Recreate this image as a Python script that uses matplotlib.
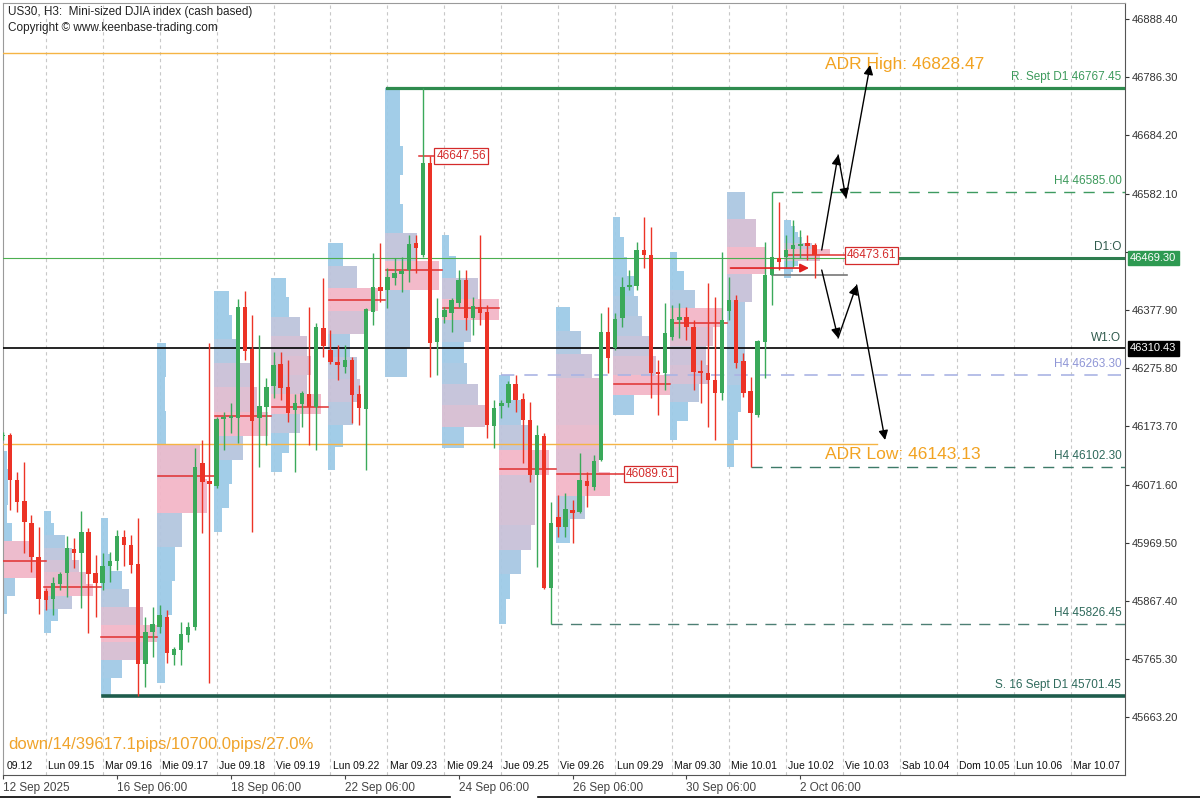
import numpy as np
import matplotlib.pyplot as plt
import matplotlib.transforms as mtransforms
from matplotlib.colors import to_rgb

plt.rcParams['font.family'] = ['Liberation Sans', 'DejaVu Sans']

# Bougies H3 US30 (12 sept -> 2 oct 2025)
opens = [46156, 46158.6, 46079.6, 46042.8, 46004.2, 45944.6,
         45884.9, 45870.9, 45897.2, 45916.5, 45958.6, 45951.6, 45988.4, 45916.5,
         45898.9, 45928.8, 45937.5, 45979.6, 45965.6, 45932.3, 45756.8, 45813.0,
         45821.7, 45839.3, 45772.6, 45781.4, 45807.7, 45821.7, 46109.5, 46077.9,
         46069.1, 46186.6, 46188.4, 46188.4, 46383.1, 46309.5, 46188.4, 46207.7,
         46244.5, 46283.1, 46242.8, 46202.4, 46213.0, 46230.5, 46207.7, 46346.3,
         46307.7, 46286.6, 46277.9, 46290.2, 46230.5, 46204.2, 46374.4, 46418.2,
         46413.0, 46434.0, 46441.0, 46448.0, 46495.4, 46474.4, 46635.7, 46321.7,
         46365.6, 46372.6, 46390.1, 46430.5, 46363.8, 46383.1, 46374.4, 46174.4,
         46209.5, 46214.7, 46248.0, 46221.7, 46184.9, 46088.4, 46156.8, 45890.2,
         46014.7, 45997.2, 46027.0, 46023.5, 46077.9, 46067.4, 46114.7, 46339.3,
         46311.2, 46363.8, 46418.2, 46420.0, 46483.1, 46474.4, 46269.1, 46267.3,
         46330.5, 46360.3, 46365.6, 46348.0, 46270.9, 46267.3, 46255.1, 46232.3,
         46376.1, 46395.4, 46288.4, 46235.8, 46193.7, 46321.7, 46439.3, 46469.1,
         46470.8, 46484.9, 46490.1, 46495.4, 46491.9]
highs = [46163, 46162.1, 46093.7, 46111.2, 46018.2, 45997.2,
         45890.2, 45909.5, 45918.2, 45981.4, 45977.9, 46025.3, 45995.4, 45948.1,
         45951.6, 45953.3, 45991.9, 45991.9, 45983.1, 46013.0, 45839.3, 45856.8,
         45860.3, 45851.6, 45786.7, 45830.5, 45830.5, 46135.8, 46149.8, 46320.0,
         46190.2, 46198.9, 46214.7, 46397.2, 46411.2, 46369.1, 46334.0, 46258.6,
         46304.2, 46304.2, 46290.2, 46230.5, 46235.8, 46383.1, 46355.1, 46434.0,
         46342.8, 46316.5, 46316.5, 46295.4, 46246.3, 46381.4, 46477.9, 46495.4,
         46451.5, 46469.1, 46470.8, 46509.4, 46509.4, 46767.3, 46647.6, 46398.9,
         46383.1, 46398.9, 46448.0, 46448.0, 46400.7, 46509.4, 46386.6, 46220.0,
         46220.0, 46253.3, 46263.8, 46232.3, 46216.5, 46176.1, 46162.1, 46041.0,
         46053.3, 46056.8, 46044.6, 46127.0, 46093.7, 46123.5, 46372.6, 46383.1,
         46372.6, 46435.8, 46448.0, 46497.2, 46541.0, 46523.5, 46290.2, 46390.1,
         46386.6, 46390.1, 46383.1, 46360.3, 46290.2, 46425.2, 46400.7, 46479.6,
         46435.8, 46404.2, 46302.4, 46260.3, 46325.2, 46497.2, 46585.0, 46567.3,
         46509.4, 46535.8, 46518.2, 46509.4, 46495.4]
lows = [46150, 46027.0, 46023.5, 45951.6, 45918.2, 45844.6,
        45851.6, 45842.8, 45886.7, 45874.4, 45925.3, 45855.1, 45811.2, 45839.3,
        45886.7, 45900.7, 45921.8, 45928.8, 45916.5, 45701.5, 45716.5, 45769.1,
        45811.2, 45758.6, 45755.1, 45755.1, 45795.4, 45816.5, 45986.7, 45723.5,
        46065.6, 46132.3, 46162.1, 46144.5, 46290.2, 45988.4, 46102.4, 46141.0,
        46223.5, 46220.0, 46181.4, 46093.7, 46172.6, 46141.0, 46132.3, 46295.4,
        46283.1, 46255.1, 46267.3, 46179.6, 46176.1, 46097.2, 46351.6, 46391.9,
        46381.4, 46421.7, 46409.4, 46427.0, 46442.8, 46470.8, 46260.3, 46263.8,
        46355.1, 46339.3, 46383.1, 46342.8, 46334.0, 46351.6, 46153.3, 46135.8,
        46188.4, 46207.7, 46198.9, 46109.5, 46076.1, 45927.0, 45888.0, 45826.5,
        45979.6, 45979.6, 45969.1, 46021.7, 46032.3, 46062.1, 46113.0, 46267.3,
        46307.7, 46348.0, 46413.0, 46413.0, 46451.5, 46223.5, 46193.7, 46237.5,
        46325.2, 46328.7, 46325.2, 46237.5, 46214.7, 46172.6, 46149.8, 46220.0,
        46360.3, 46276.1, 46225.2, 46102.3, 46190.2, 46258.6, 46386.6, 46448.0,
        46451.5, 46453.3, 46469.1, 46465.6, 46434.0]
closes = [46159, 46079.6, 46041.0, 46006.0, 45944.6, 45870.9,
          45869.1, 45898.9, 45914.7, 45960.3, 45951.6, 45988.4, 45914.7, 45898.9,
          45928.8, 45937.5, 45981.4, 45965.6, 45930.5, 45756.8, 45813.0, 45827.0,
          45842.8, 45776.1, 45783.2, 45809.5, 45821.7, 46102.4, 46076.1, 46072.6,
          46186.6, 46190.2, 46191.9, 46383.1, 46305.9, 46183.1, 46209.5, 46242.8,
          46281.4, 46241.0, 46197.2, 46214.7, 46232.3, 46207.7, 46348.0, 46314.7,
          46286.6, 46281.4, 46290.2, 46228.7, 46205.9, 46379.6, 46418.2, 46411.2,
          46435.8, 46442.8, 46446.3, 46493.6, 46486.6, 46635.7, 46320.0, 46363.8,
          46377.9, 46395.4, 46430.5, 46363.8, 46384.9, 46372.6, 46176.1, 46205.9,
          46214.7, 46248.0, 46220.0, 46184.9, 46088.4, 46158.6, 45890.2, 46004.2,
          45997.2, 46028.8, 46021.7, 46079.6, 46069.1, 46113.0, 46339.3, 46293.7,
          46362.1, 46418.2, 46420.0, 46483.1, 46474.4, 46267.3, 46265.6, 46337.5,
          46362.1, 46365.6, 46348.0, 46269.1, 46267.3, 46255.1, 46232.3, 46360.3,
          46395.4, 46284.9, 46232.3, 46197.2, 46323.5, 46439.3, 46470.8, 46462.1,
          46483.1, 46491.9, 46493.6, 46490.1, 46473.6]

# profils de volume par jour (largeur en barres, du haut vers le bas)
day_starts = [0, 6, 14, 22, 30, 38, 46, 54, 62, 70, 78, 86, 94, 102, 110]
day_profiles = [
    [0.5, 0.8, 1.0, 1.0, 0.8, 1.5, 4.5, 5.0, 2.0, 0.8],
    [1.0, 1.5, 3, 4, 5, 6, 7, 4, 2, 1],
    [1, 1, 1.5, 3, 4, 6, 8, 6, 3, 1.5],
    [1.2, 1, 1.2, 6, 7, 3.5, 2.5, 2, 1.5, 1],
    [2, 2.5, 3.5, 5, 6, 7.5, 4, 2.5, 2, 1],
    [2, 2.5, 4, 5, 5.5, 5, 7, 4, 2.5, 1.5],
    [2, 4, 7, 5, 3, 4, 4.5, 3.5, 2, 1],
    [2, 2, 2.5, 2, 2.5, 4.5, 7.5, 3.5, 3.5, 3],
    [1, 2, 5, 8, 4, 3, 3.5, 5, 6, 3],
    [1.5, 3, 4, 7, 5, 5, 4.5, 3, 1.5, 1],
    [2, 3.5, 5, 6, 6, 6.5, 6, 7.5, 4, 2],
    [1, 1.5, 2, 3, 3.5, 4, 5, 6, 8, 3],
    [1, 2, 3.5, 7.5, 6, 5, 5.5, 4, 2.5, 1],
    [2.5, 4, 5.5, 3.5, 2.5, 2.5, 2.5, 2, 1.5, 1],
    [1, 1.5, 2, 2.5, 4, 6.5, 5, 2, 1.2, 1],
]
day_poc = [45937.5, 45891.9, 45804.2, 46086.7, 46191.9, 46207.7, 46395.4, 46448.0,
           46381.4, 46098.9, 46089.61, 46248.0, 46355.1, 46451.5, 46473.61]

sep_bars = [6, 14, 22, 30, 38, 46, 54, 62, 70, 78, 86, 94, 102, 110, 118, 126, 134, 142, 150]
day_labels = ["09.12", "Lun 09.15", "Mar 09.16", "Mie 09.17", "Jue 09.18", "Vie 09.19",
              "Lun 09.22", "Mar 09.23", "Mie 09.24", "Jue 09.25", "Vie 09.26", "Lun 09.29",
              "Mar 09.30", "Mie 10.01", "Jue 10.02", "Vie 10.03", "Sab 10.04", "Dom 10.05",
              "Lun 10.06", "Mar 10.07"]
label_bars = [0.2] + sep_bars

bottom_ticks = [0, 16, 32, 48, 64, 80, 96, 112]
bottom_labels = ["12 Sep 2025", "16 Sep 06:00", "18 Sep 06:00", "22 Sep 06:00",
                 "24 Sep 06:00", "26 Sep 06:00", "30 Sep 06:00", "2 Oct 06:00"]

y_ticks = [46888.40, 46786.30, 46684.20, 46582.10, 46480.00, 46377.90, 46275.80,
           46173.70, 46071.60, 45969.50, 45867.40, 45765.30, 45663.20]

adr_high = 46828.47
adr_low = 46143.13

GREEN = '#3aa95a'
RED = '#ec3326'
BLUE = np.array(to_rgb('#9dcbe7'))
PINK = np.array(to_rgb('#f3b7c8'))

fig = plt.figure(figsize=(12, 8), dpi=100)
ax = fig.add_axes([3 / 1200, 25 / 800, 1122 / 1200, 772 / 800])
ax.set_xlim(0, 157.6)
ax.set_ylim(45562.15, 46916.47)

# separateurs de jours
for s in sep_bars:
    ax.axvline(s, color='#c8c8c8', lw=0.8, ls=(0, (3, 3)), zorder=1)

# profils de volume
for k, start in enumerate(day_starts):
    end = day_starts[k + 1] if k + 1 < len(day_starts) else len(opens)
    lo = min(lows[start:end])
    hi = max(highs[start:end])
    w = np.array(day_profiles[k])
    n = len(w)
    edges = np.linspace(hi, lo, n + 1)
    t = np.clip((w / w.max() - 0.35) / 0.6, 0, 1)
    cols = [tuple(BLUE * (1 - tt) + PINK * tt) for tt in t]
    ax.barh(edges[1:], w, height=(hi - lo) / n, left=start - 0.3, align='edge',
            color=cols, lw=0, alpha=0.95, zorder=2)

# lignes POC
for k, start in enumerate(day_starts):
    if k == 13:
        ax.annotate('', xy=(113.6, day_poc[k]), xytext=(start - 0.2, day_poc[k]),
                    arrowprops=dict(arrowstyle='-|>', color='#e02020', lw=1.2,
                                    mutation_scale=13), zorder=6)
        continue
    stop = start + 7.7
    if k == 0:
        stop = 6
    if k == 10:
        stop = 87.2
    if k == 14:
        stop = 118.2
    ax.plot([start - 0.2, stop], [day_poc[k]] * 2, color='#e03030', lw=1.1, zorder=3)

# niveaux ADR
ax.plot([0, 122.8], [adr_high] * 2, color='#f5b444', lw=1.0, zorder=3)
ax.plot([0, 122.8], [adr_low] * 2, color='#f5b444', lw=1.0, zorder=3)
ax.text(115.5, adr_high - 6, "ADR High: 46828.47", color='#f2a322', fontsize=12.5,
        va='top', ha='left', zorder=7)
ax.text(115.5, adr_low - 6, "ADR Low: 46143.13", color='#f2a322', fontsize=12.5,
        va='top', ha='left', zorder=7)

# niveaux horizontaux
xr = 157.6
ax.axhline(46469.30, color='#4caf50', lw=0.8, zorder=3)
ax.plot([126, xr], [46469.30] * 2, color='#2e7d4f', lw=2.2, zorder=3)
ax.axhline(46310.43, color='black', lw=1.2, zorder=3)
ax.plot([54, xr], [46767.45] * 2, color='#2e8b4e', lw=2.3, zorder=3)
ax.plot([14, xr], [45701.45] * 2, color='#1e5c4c', lw=2.6, zorder=3)
ax.plot([108, xr], [46585.00] * 2, color='#3d9a60', lw=1.0, ls=(0, (8, 6)), zorder=3)
ax.plot([70, xr], [46263.30] * 2, color='#aab4e4', lw=1.2, ls=(0, (8, 6)), zorder=3)
ax.plot([105, xr], [46102.30] * 2, color='#3d7a68', lw=1.0, ls=(0, (8, 6)), zorder=3)
ax.plot([77, xr], [45826.45] * 2, color='#4d7f74', lw=1.0, ls=(0, (8, 6)), zorder=3)
ax.plot([108, 118.5], [46439.3] * 2, color='#777777', lw=1.2, zorder=3)

level_tags = [("R. Sept D1 46767.45", 46767.45, '#3d9a5c'),
              ("H4 46585.00", 46585.00, '#3d9a5c'),
              ("D1:O", 46469.30, '#2f5a4c'),
              ("W1:O", 46310.43, '#2f5a4c'),
              ("H4 46263.30", 46263.30, '#8f96d6'),
              ("H4 46102.30", 46102.30, '#2f6a5c'),
              ("H4 45826.45", 45826.45, '#2f6a5c'),
              ("S. 16 Sept D1 45701.45", 45701.45, '#2f6a5c')]
for txt, lvl, c in level_tags:
    ax.annotate(txt, xy=(xr - 0.5, lvl), xytext=(0, 3.5), textcoords='offset points',
                ha='right', va='bottom', color=c, fontsize=8.5, zorder=7)

# bougies
idx = np.arange(len(opens))
o = np.array(opens); h = np.array(highs); l = np.array(lows); c = np.array(closes)
col = np.where(c >= o, GREEN, RED)
ax.vlines(idx, l, h, colors=col, lw=1.0, zorder=4)
ax.bar(idx, np.maximum(np.abs(c - o), 3.0), bottom=np.minimum(o, c), width=0.62,
       color=col, lw=0, zorder=5)

# étiquettes de prix
ax.plot([58.4, 60.6], [46647.56] * 2, color='#e03030', lw=1.1, zorder=3)
for xb, p in [(60.6, 46647.56), (87.2, 46089.61), (118.2, 46473.61)]:
    ax.text(xb + 0.3, p, f"{p:.2f}", color='#d42b2b', fontsize=8.5, va='center', ha='left',
            zorder=8, bbox=dict(boxstyle='square,pad=0.18', fc='white', ec='#d42b2b', lw=0.9))

# scénarios (flèches)
paths = [[(115.0, 46483.1), (117.3, 46649.8), (118.4, 46574.3), (121.8, 46807.7)],
         [(115.0, 46448.0), (117.3, 46328.7), (119.9, 46421.7), (123.9, 46149.8)]]
for pts in paths:
    for a, b in zip(pts[:-1], pts[1:]):
        ax.annotate('', xy=b, xytext=a,
                    arrowprops=dict(arrowstyle='-|>', color='black', lw=1.0,
                                    mutation_scale=14, shrinkA=0, shrinkB=0), zorder=9)

# étiquettes des jours (dans le graphe)
blend = mtransforms.blended_transform_factory(ax.transData, ax.transAxes)
for xb, lab in zip(label_bars, day_labels):
    ax.text(xb + 0.3, 0.0115, lab, transform=blend, fontsize=7.5, va='center',
            ha='left', color='#111111')

# axes
ax.yaxis.tick_right()
ax.set_yticks(y_ticks)
# le niveau 46480.00 est caché par la boîte verte du prix courant
ax.set_yticklabels(["" if abs(v - 46480.0) < 1 else f"{v:.2f}" for v in y_ticks])
ax.tick_params(axis='y', length=3, pad=2, labelsize=8, colors='#333333')
ax.set_xticks(bottom_ticks)
ax.set_xticklabels(bottom_labels)
for lb in ax.get_xticklabels():
    lb.set_ha('left')
ax.tick_params(axis='x', length=3, pad=2, labelsize=8.5, colors='#444444')
for side in ['left', 'top']:
    ax.spines[side].set_color('#9a9a9a')
for side in ['right', 'bottom']:
    ax.spines[side].set_color('#555555')

# boîtes de prix sur l'axe droit
yblend = mtransforms.blended_transform_factory(ax.transAxes, ax.transData)
ax.text(1.0045, 46469.30, "46469.30", transform=yblend, color='white', fontsize=8,
        va='center', ha='left', clip_on=False, zorder=10,
        bbox=dict(boxstyle='square,pad=0.2', fc='#2e9a52', ec='#2e9a52'))
ax.text(1.0045, 46310.43, "46310.43", transform=yblend, color='white', fontsize=8,
        va='center', ha='left', clip_on=False, zorder=10,
        bbox=dict(boxstyle='square,pad=0.2', fc='black', ec='black'))

fig.text(8 / 1200, 1 - 12 / 800, "US30, H3:  Mini-sized DJIA index (cash based)",
         fontsize=8.5, va='center', ha='left', color='#222222')
fig.text(8 / 1200, 1 - 28 / 800, "Copyright © www.keenbase-trading.com",
         fontsize=8.5, va='center', ha='left', color='#222222')
fig.text(8 / 1200, 1 - 745 / 800, "down/14/39617.1pips/10700.0pips/27.0%",
         fontsize=12, va='center', ha='left', color='#f0a32a')

fig.add_artist(plt.Line2D([0, 450 / 1200], [3 / 800] * 2, color='black', lw=1.2))
fig.add_artist(plt.Line2D([538 / 1200, 1], [3 / 800] * 2, color='black', lw=1.2))

fig.savefig("out.png", dpi=100)
